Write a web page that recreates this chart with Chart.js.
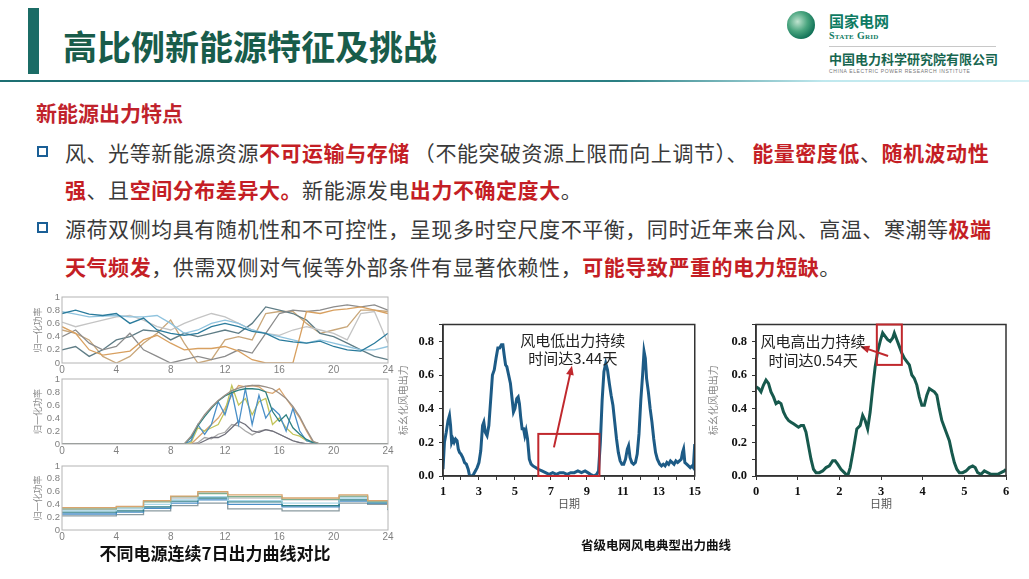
<!DOCTYPE html>
<html lang="zh-CN">
<head>
<meta charset="utf-8">
<title>高比例新能源特征及挑战</title>
<script src="https://cdn.jsdelivr.net/npm/chart.js@4.4.1/dist/chart.umd.min.js"></script>
<style>
  html, body { margin: 0; padding: 0; background: #fff; }
  body { width: 1029px; height: 579px; position: relative; overflow: hidden;
         font-family: "Noto Sans CJK SC", "Noto Sans", sans-serif; }
  .abs { position: absolute; }
  #bar { left: 28px; top: 8px; width: 11px; height: 66px; background: #1b6c66; }
  #title { left: 63px; top: 25px; font-size: 34px; font-weight: bold; color: #185c4a;
           line-height: 42px; white-space: nowrap; }
  #rule { left: 0; top: 80px; width: 1029px; height: 2px;
          background: linear-gradient(to right, #1d6f72 0%, #2a7f83 60%, #bfe8ee 80%, #d6f1f5 100%); }
  #globe { left: 787px; top: 11px; width: 28px; height: 28px; border-radius: 50%;
           background: radial-gradient(circle at 38% 38%, #bfe3cf 0%, #4aa57f 40%, #0e6f55 75%); }
  #sg1 { left: 829px; top: 12px; font-size: 15px; font-weight: bold; color: #0e7b63; line-height: 18px; }
  #sg2 { left: 829px; top: 30px; font-family: "Liberation Serif", serif; font-size: 10px; font-weight: bold;
         font-variant: small-caps; color: #0e7b63; letter-spacing: 0.3px; line-height: 12px; }
  #sgline { left: 829px; top: 46px; width: 167px; height: 1px; background: #c8c8c8; }
  #cep { left: 829px; top: 50px; font-size: 13px; font-weight: bold; color: #17664f; line-height: 17px;
         white-space: nowrap; }
  #cepen { left: 829px; top: 68px; font-family: "Liberation Sans", sans-serif; font-size: 5px; color: #777;
           letter-spacing: 0.6px; white-space: nowrap; }
  #sub { left: 36px; top: 98px; font-size: 21px; font-weight: bold; color: #c0222b; line-height: 28px; }
  .ln { left: 65px; font-size: 21px; line-height: 38px; color: #3a3a3a; white-space: nowrap; letter-spacing: 0.55px; }
  .r { color: #c41e25; font-weight: bold; }
  .gap { margin-left: 4px; }
  .sq { width: 7px; height: 7px; border: 2.5px solid #1a5f96; left: 37px; }
  .box { position: absolute; }
  #cap1 { left: 32px; width: 366px; top: 541px; text-align: center; font-size: 17px; font-weight: bold;
          color: #111; line-height: 24px; white-space: nowrap; }
  #cap2 { left: 556px; width: 200px; top: 536px; text-align: center; font-size: 12.5px; font-weight: bold;
          color: #111; line-height: 18px; white-space: nowrap; }
</style>
</head>
<body>
<div id="bar" class="abs"></div>
<div id="title" class="abs">高比例新能源特征及挑战</div>
<div id="rule" class="abs"></div>

<div id="globe" class="abs"></div>
<div id="sg1" class="abs">国家电网</div>
<div id="sg2" class="abs">State Grid</div>
<div id="sgline" class="abs"></div>
<div id="cep" class="abs">中国电力科学研究院有限公司</div>
<div id="cepen" class="abs">CHINA ELECTRIC POWER RESEARCH INSTITUTE</div>

<div id="sub" class="abs">新能源出力特点</div>
<div class="abs sq" style="top:146px"></div>
<div class="abs ln" style="top:133px">风、光等新能源资源<span class="r">不可运输与存储</span><span class="gap">（</span>不能突破资源上限而向上调节）、<span class="r gap">能量密度低</span>、<span class="r">随机波动性</span></div>
<div class="abs ln" style="top:170px"><span class="r">强</span>、且<span class="r">空间分布差异大。</span>新能源发电<span class="r">出力不确定度大</span>。</div>
<div class="abs sq" style="top:222px"></div>
<div class="abs ln" style="top:209px">源荷双侧均具有随机性和不可控性，呈现多时空尺度不平衡，同时近年来台风、高温、寒潮等<span class="r">极端</span></div>
<div class="abs ln" style="top:247px"><span class="r">天气频发</span>，供需双侧对气候等外部条件有显著依赖性，<span class="r">可能导致严重的电力短缺</span>。</div>

<div class="box" style="left:32px;top:287px;width:366px;height:90px"><canvas id="chart_wind7"></canvas></div>
<div class="box" style="left:32px;top:369px;width:366px;height:89px"><canvas id="chart_pv7"></canvas></div>
<div class="box" style="left:32px;top:456px;width:366px;height:88px"><canvas id="chart_load7"></canvas></div>
<div class="box" style="left:393px;top:312px;width:312px;height:204px"><canvas id="chart_low"></canvas></div>
<div class="box" style="left:703px;top:312px;width:311px;height:204px"><canvas id="chart_high"></canvas></div>

<div id="cap1" class="abs">不同电源连续7日出力曲线对比</div>
<div id="cap2" class="abs">省级电网风电典型出力曲线</div>

<script>
// ---- left column: 7 days of normalised output, 24 h ----
var hours = [0,1,2,3,4,5,6,7,8,9,10,11,12,13,14,15,16,17,18,19,20,21,22,23,24];
var wind7 = [
  [0.75,0.8,0.74,0.72,0.75,0.6,0.68,0.5,0.45,0.42,0.45,0.55,0.6,0.55,0.48,0.45,0.35,0.32,0.3,0.33,0.25,0.2,0.18,0.3,0.45],
  [0.55,0.45,0.2,0.12,0.15,0.18,0.35,0.42,0.3,0.2,0.22,0.22,0.25,0.18,0.05,0,0,0,0.78,0.75,0.8,0.82,0.85,0.8,0.75],
  [0.4,0.5,0.3,0.2,0.25,0.45,0.2,0.1,0,0.05,0.1,0.05,0.1,0.2,0.15,0.45,0.75,0.8,0.78,0.8,0.85,0.88,0.85,0.88,0.8],
  [0.78,0.74,0.7,0.71,0.72,0.7,0.7,0.72,0.6,0.45,0.5,0.6,0.65,0.6,0.5,0.45,0.4,0.35,0.3,0.35,0.3,0.25,0.2,0.2,0.25],
  [0.62,0.55,0.6,0.65,0.7,0.72,0.65,0.55,0.5,0.6,0.68,0.75,0.7,0.6,0.5,0.45,0.42,0.5,0.55,0.5,0.45,0.35,0.75,0.78,0.3],
  [0.2,0.25,0.1,0.2,0.35,0.4,0.5,0.48,0.35,0.45,0.4,0.45,0.5,0.45,0.6,0.85,0.8,0.75,0.65,0.45,0.4,0.3,0.2,0.1,0.05],
  [0.5,0.45,0.35,0.1,0,0.1,0.3,0.45,0.65,0.3,0,0.05,0.35,0.4,0.35,0.75,0.78,0.78,0.6,0.45,0.5,0.55,0.8,0.8,0.78]
];
var wind7Colors = ['#2a7b9c','#d8a060','#8c8c8c','#8fc3de','#c4c4c4','#5f7d86','#c9a77a'];

var pvHours = [0,8.5,9,9.5,10,10.5,11,11.5,12,12.5,13,13.5,14,14.5,15,15.5,16,16.5,17,17.5,18,18.5,19,24];
var pv7 = [
  [0,0,0,0.12,0.3,0.45,0.57,0.67,0.75,0.82,0.86,0.89,0.9,0.9,0.88,0.85,0.78,0.7,0.58,0.42,0.22,0.04,0,0],
  [0,0,0,0.1,0.28,0.42,0.55,0.66,0.74,0.79,0.83,0.85,0.85,0.84,0.8,0.5,0.35,0.45,0.25,0.15,0.07,0.02,0,0],
  [0,0,0,0.05,0.3,0.15,0.3,0.65,0.45,0.8,0.3,0.85,0.3,0.75,0.4,0.55,0.45,0.2,0.55,0.2,0.05,0.02,0,0],
  [0,0,0,0.02,0.25,0.2,0.25,0.3,0.5,0.9,0.6,0.7,0.45,0.65,0.7,0.3,0.4,0.25,0.15,0.12,0.05,0.02,0,0],
  [0,0,0,0,0.1,0.2,0.3,0.4,0.55,0.75,0.9,0.88,0.9,0.88,0.8,0.78,0.85,0.7,0.55,0.4,0.2,0.02,0,0],
  [0,0,0,0,0,0.05,0.1,0.1,0.15,0.25,0.35,0.3,0.2,0.18,0.22,0.2,0.15,0.1,0.05,0.02,0,0,0,0],
  [0,0,0,0,0.02,0.1,0.08,0.15,0.18,0.3,0.28,0.2,0.14,0.2,0.22,0.2,0.15,0.1,0.05,0.02,0,0,0,0]
];
var pv7Colors = ['#9a8f86','#2f8080','#4a8fc7','#c2c45a','#d9a56e','#6f6f7a','#a8a8a8'];

var loadHours = [0,2,4,6,8,10,12.2,16.2,20.4,22.5,24];
var load7 = [
  [0.35,0.37,0.46,0.53,0.6,0.55,0.5,0.55,0.46,0.35],
  [0.33,0.36,0.44,0.52,0.57,0.52,0.48,0.53,0.45,0.34],
  [0.3,0.33,0.4,0.47,0.52,0.46,0.42,0.5,0.44,0.33],
  [0.28,0.3,0.36,0.45,0.5,0.44,0.38,0.47,0.43,0.32],
  [0.25,0.28,0.34,0.42,0.47,0.4,0.36,0.45,0.42,0.32],
  [0.22,0.24,0.3,0.38,0.42,0.33,0.3,0.42,0.4,0.31],
  [0.32,0.34,0.45,0.5,0.58,0.5,0.47,0.52,0.44,0.34]
];
var load7Colors = ['#d9a56e','#7fae8f','#a9d8e8','#2f7f86','#4a8fc7','#8a9aa0','#c5c5c5'];

// ---- provincial wind output, [day, p.u.] ----
var windLowPts = [[1.00,0.04],[1.08,0.2],[1.18,0.26],[1.28,0.33],[1.36,0.36],[1.42,0.3],[1.48,0.2],[1.55,0.22],[1.62,0.2],[1.7,0.22],[1.78,0.21],[1.85,0.16],[1.92,0.14],[2.0,0.13],[2.1,0.11],[2.2,0.08],[2.3,0.07],[2.4,0.04],[2.48,0.0],[2.6,0.0],[2.7,0.01],[2.8,0.03],[2.9,0.05],[3.0,0.08],[3.1,0.15],[3.2,0.3],[3.27,0.32],[3.35,0.26],[3.45,0.24],[3.55,0.3],[3.65,0.45],[3.75,0.6],[3.85,0.63],[3.95,0.7],[4.05,0.76],[4.15,0.76],[4.25,0.78],[4.33,0.78],[4.4,0.72],[4.48,0.66],[4.55,0.65],[4.65,0.6],[4.75,0.55],[4.85,0.45],[4.92,0.38],[5.0,0.4],[5.1,0.46],[5.18,0.47],[5.25,0.43],[5.32,0.35],[5.4,0.28],[5.48,0.28],[5.55,0.24],[5.62,0.27],[5.7,0.22],[5.8,0.1],[5.9,0.07],[6.0,0.06],[6.15,0.05],[6.3,0.04],[6.5,0.03],[6.7,0.02],[6.9,0.01],[7.1,0.02],[7.3,0.01],[7.5,0.02],[7.7,0.02],[7.9,0.01],[8.1,0.02],[8.3,0.02],[8.5,0.03],[8.7,0.02],[8.9,0.03],[9.05,0.02],[9.2,0.01],[9.4,0.0],[9.55,0.01],[9.65,0.03],[9.75,0.2],[9.85,0.45],[9.95,0.62],[10.05,0.67],[10.15,0.63],[10.25,0.55],[10.35,0.48],[10.45,0.42],[10.55,0.32],[10.65,0.22],[10.75,0.14],[10.85,0.09],[10.95,0.07],[11.05,0.07],[11.15,0.1],[11.25,0.16],[11.32,0.18],[11.4,0.11],[11.5,0.08],[11.6,0.07],[11.7,0.08],[11.8,0.13],[11.9,0.25],[12.0,0.45],[12.1,0.6],[12.18,0.74],[12.25,0.7],[12.32,0.58],[12.42,0.5],[12.52,0.4],[12.62,0.32],[12.72,0.22],[12.82,0.14],[12.92,0.1],[13.05,0.07],[13.15,0.06],[13.25,0.07],[13.35,0.06],[13.45,0.08],[13.55,0.07],[13.65,0.09],[13.75,0.08],[13.85,0.07],[13.95,0.09],[14.05,0.08],[14.15,0.09],[14.25,0.1],[14.32,0.14],[14.38,0.16],[14.45,0.08],[14.55,0.07],[14.65,0.06],[14.75,0.05],[14.85,0.06],[14.92,0.05],[15.0,0.19]];
var windHighPts = [[0,0.53],[0.06,0.52],[0.12,0.5],[0.18,0.54],[0.24,0.57],[0.3,0.55],[0.36,0.5],[0.42,0.47],[0.48,0.43],[0.54,0.44],[0.6,0.43],[0.66,0.38],[0.72,0.35],[0.78,0.33],[0.84,0.32],[0.9,0.31],[0.96,0.3],[1.02,0.29],[1.08,0.3],[1.14,0.3],[1.2,0.26],[1.26,0.18],[1.32,0.1],[1.38,0.04],[1.44,0.02],[1.52,0.02],[1.6,0.03],[1.68,0.05],[1.76,0.06],[1.84,0.09],[1.9,0.09],[1.96,0.07],[2.04,0.04],[2.12,0.02],[2.2,0.0],[2.26,0.05],[2.34,0.16],[2.42,0.28],[2.5,0.3],[2.56,0.36],[2.62,0.33],[2.68,0.28],[2.74,0.38],[2.8,0.52],[2.86,0.65],[2.92,0.74],[2.98,0.8],[3.04,0.85],[3.1,0.83],[3.16,0.81],[3.22,0.8],[3.28,0.82],[3.32,0.85],[3.38,0.81],[3.44,0.77],[3.5,0.73],[3.56,0.7],[3.62,0.68],[3.68,0.66],[3.74,0.6],[3.8,0.58],[3.86,0.54],[3.92,0.47],[3.98,0.42],[4.04,0.42],[4.1,0.48],[4.16,0.52],[4.22,0.51],[4.28,0.5],[4.34,0.48],[4.4,0.4],[4.46,0.33],[4.52,0.29],[4.58,0.25],[4.64,0.21],[4.7,0.14],[4.76,0.08],[4.82,0.04],[4.88,0.02],[4.96,0.02],[5.04,0.03],[5.12,0.05],[5.2,0.06],[5.26,0.05],[5.32,0.02],[5.4,0.01],[5.48,0.03],[5.56,0.02],[5.64,0.01],[5.72,0.01],[5.8,0.01],[5.88,0.02],[5.96,0.03],[6.0,0.04]];

// annotations in data units: box [x0,x1,y0,y1], arrow [fromX,fromY,toX,toY], text anchor [x, yLine1, yLine2]
var lowBox = [6.3, 9.7, 0, 0.25];
var lowArrow = [7.17, 0.17, 8.17, 0.655];
var lowText = ['风电低出力持续', '时间达3.44天'];
var lowTextAt = [8.22, 0.805, 0.7];
var highBox = [2.9, 3.5, 0.66, 0.9];
var highArrow = [3.17, 0.713, 2.5, 0.77];
var highText = ['风电高出力持续', '时间达0.54天'];
var highTextAt = [1.37, 0.8, 0.69];

var framePlugin = {
    id: 'frame',
    defaults: { color: '#aaa', width: 1 },
    afterDatasetsDraw: function(chart, args, opts) {
        var a = chart.chartArea, ctx = chart.ctx;
        ctx.save();
        ctx.strokeStyle = opts.color;
        ctx.lineWidth = opts.width;
        ctx.strokeRect(a.left, a.top, a.right - a.left, a.bottom - a.top);
        ctx.restore();
    }
};

var notePlugin = {
    id: 'note',
    afterDatasetsDraw: function(chart, args, o) {
        if (!o || !o.box) return;
        var ctx = chart.ctx, sx = chart.scales.x, sy = chart.scales.y;
        var px = function(v) { return sx.getPixelForValue(v); };
        var py = function(v) { return sy.getPixelForValue(v); };
        ctx.save();
        ctx.strokeStyle = '#c0282d';
        ctx.fillStyle = '#c0282d';
        ctx.lineWidth = 2;
        ctx.strokeRect(px(o.box[0]), py(o.box[3]), px(o.box[1]) - px(o.box[0]), py(o.box[2]) - py(o.box[3]));
        var x0 = px(o.arrow[0]), y0 = py(o.arrow[1]), x1 = px(o.arrow[2]), y1 = py(o.arrow[3]);
        var ang = Math.atan2(y1 - y0, x1 - x0);
        ctx.beginPath();
        ctx.moveTo(x0, y0);
        ctx.lineTo(x1 - 6 * Math.cos(ang), y1 - 6 * Math.sin(ang));
        ctx.stroke();
        ctx.beginPath();
        ctx.moveTo(x1, y1);
        ctx.lineTo(x1 - 10 * Math.cos(ang - 0.4), y1 - 10 * Math.sin(ang - 0.4));
        ctx.lineTo(x1 - 10 * Math.cos(ang + 0.4), y1 - 10 * Math.sin(ang + 0.4));
        ctx.closePath();
        ctx.fill();
        ctx.font = '15px "Noto Sans CJK SC"';
        ctx.fillStyle = '#222';
        ctx.textAlign = 'center';
        ctx.textBaseline = 'middle';
        ctx.fillText(o.text[0], px(o.at[0]), py(o.at[1]));
        ctx.fillText(o.text[1], px(o.at[0]), py(o.at[2]));
        ctx.restore();
    }
};

Chart.register(framePlugin, notePlugin);

function toPoints(xs, ys) {
    return xs.map(function(x, i) { return { x: x, y: ys[i] }; });
}

function smallChart(id, sets, colors, stepped) {
    return new Chart(document.getElementById(id), {
        type: 'line',
        data: {
            datasets: sets.map(function(s, i) {
                return { data: s, borderColor: colors[i], borderWidth: 1.3, pointRadius: 0,
                         tension: 0, fill: false, stepped: stepped ? 'before' : false };
            })
        },
        options: {
            animation: false,
            responsive: true,
            maintainAspectRatio: false,
            layout: { padding: { top: 10, right: 10, left: 0, bottom: 0 } },
            plugins: { legend: { display: false }, tooltip: { enabled: false },
                       frame: { color: '#b4b4b4', width: 1 } },
            scales: {
                x: {
                    type: 'linear', min: 0, max: 24,
                    ticks: { stepSize: 4, autoSkip: false, maxRotation: 0, minRotation: 0,
                             color: '#808080', padding: 1,
                             font: { family: 'Liberation Sans', size: 10 } },
                    grid: { display: false, drawTicks: false, tickLength: 0 },
                    border: { display: false },
                    afterFit: function(s) { s.height = 14; }
                },
                y: {
                    min: 0, max: 1,
                    ticks: { stepSize: 0.2, autoSkip: false, color: '#808080', padding: 2,
                             font: { family: 'Liberation Sans', size: 9.5 },
                             callback: function(v) { return String(+v.toFixed(1)); } },
                    grid: { display: false, drawTicks: false, tickLength: 0 },
                    border: { display: false },
                    title: { display: true, text: '归一化功率', color: '#8a8a8a', padding: 0,
                             font: { family: 'Noto Sans CJK SC', size: 9 } },
                    afterFit: function(s) { s.width = 30; }
                }
            }
        }
    });
}

var chart_wind7 = smallChart('chart_wind7', wind7.map(function(s) { return toPoints(hours, s); }), wind7Colors, false);
var chart_pv7 = smallChart('chart_pv7', pv7.map(function(s) { return toPoints(pvHours, s); }), pv7Colors, false);
var chart_load7 = smallChart('chart_load7', load7.map(function(s) {
    return toPoints(loadHours, [s[0]].concat(s));
}), load7Colors, true);

function windChart(id, pts, color, xmin, xmax, yAxisW, note) {
    return new Chart(document.getElementById(id), {
        type: 'line',
        data: {
            datasets: [{
                data: pts.map(function(p) { return { x: p[0], y: p[1] }; }),
                borderColor: color,
                borderWidth: 3,
                pointRadius: 0,
                tension: 0,
                fill: false
            }]
        },
        options: {
            animation: false,
            responsive: true,
            maintainAspectRatio: false,
            layout: { padding: { top: 10, right: 8, left: 0, bottom: 0 } },
            plugins: { legend: { display: false }, tooltip: { enabled: false },
                       frame: { color: '#333', width: 1.5 }, note: note },
            scales: {
                x: {
                    type: 'linear', min: xmin, max: xmax,
                    ticks: { stepSize: 1, autoSkip: false, maxRotation: 0, minRotation: 0,
                             color: '#111', padding: 4,
                             font: { family: 'Liberation Serif', size: 12.5, weight: 'bold' },
                             callback: function(v) {
                                 return (xmin === 1 && v % 2 === 0) ? '' : v;
                             } },
                    grid: { drawOnChartArea: false, tickLength: 4, color: '#333' },
                    border: { color: '#333', width: 1.5 },
                    title: { display: true, text: '日期', color: '#555', padding: { top: 0, bottom: 4 },
                             font: { family: 'Liberation Serif', size: 11 } },
                    afterFit: function(s) { s.height = 40; }
                },
                y: {
                    min: 0, max: 0.9,
                    ticks: { stepSize: 0.1, autoSkip: false, color: '#111', padding: 5,
                             font: { family: 'Liberation Serif', size: 12.5, weight: 'bold' },
                             callback: function(v) {
                                 var k = Math.round(v * 10);
                                 return (k % 2 === 0 && k <= 8) ? v.toFixed(1) : '';
                             } },
                    grid: { drawOnChartArea: false, tickLength: 4, color: '#333' },
                    border: { color: '#333', width: 1.5 },
                    title: { display: true, text: '标幺化风电出力', color: '#8a8a8a', padding: { top: 4, bottom: 0 },
                             font: { family: 'Noto Sans CJK SC', size: 10 } },
                    afterFit: function(s) { s.width = yAxisW; }
                }
            }
        }
    });
}

var chart_low = windChart('chart_low', windLowPts, '#1d5b86', 1, 15, 50,
    { box: lowBox, arrow: lowArrow, text: lowText, at: lowTextAt });
var chart_high = windChart('chart_high', windHighPts, '#17594d', 0, 6, 53,
    { box: highBox, arrow: highArrow, text: highText, at: highTextAt });
</script>
</body>
</html>
